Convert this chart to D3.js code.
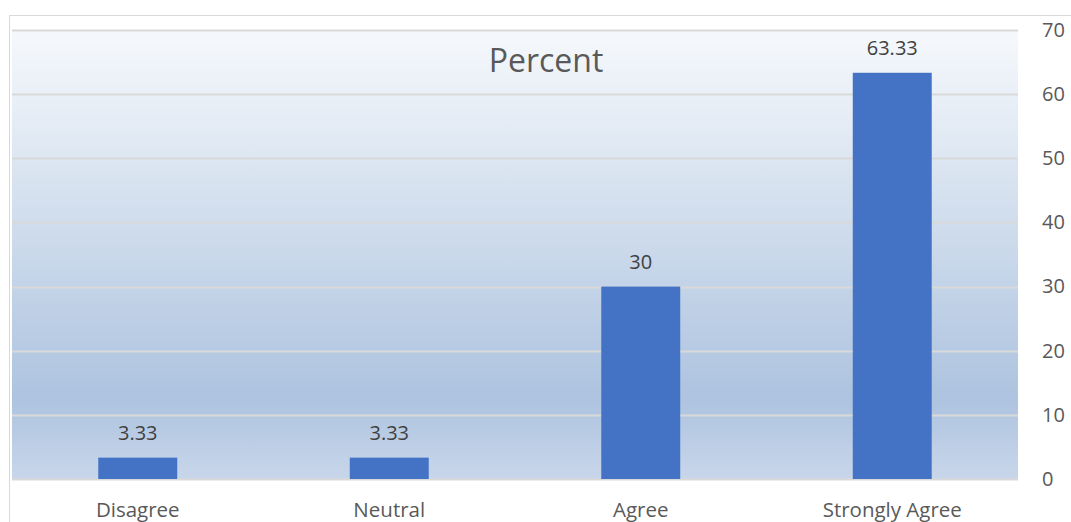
<!DOCTYPE html>
<html><head><meta charset="utf-8">
<script src="https://cdn.jsdelivr.net/npm/d3@7"></script>
<style>body{margin:0;background:#fff;} svg{display:block;font-family:"Open Sans","Noto Sans",sans-serif;}</style>
</head><body>
<svg id="c" width="1071" height="522"></svg>
<script>
const categories = ["Disagree","Neutral","Agree","Strongly Agree"];
const values = [3.33, 3.33, 30, 63.33];
const valueLabels = ["3.33","3.33","30","63.33"];
const yTicks = [0,10,20,30,40,50,60,70];
const title = "Percent";

const svg = d3.select("#c");
const L = 12, R = 1018, T = 30, B = 479;
const x = d3.scaleBand().domain(categories).range([L, R]).paddingInner(0.686).paddingOuter(0.343);
const y = d3.scaleLinear().domain([0,70]).range([B, T]);

const defs = svg.append("defs");
const g = defs.append("linearGradient").attr("id","bg").attr("x1",0).attr("y1",0).attr("x2",0).attr("y2",1);
g.append("stop").attr("offset","0%").attr("stop-color","#f6f9fc");
g.append("stop").attr("offset","82%").attr("stop-color","#adc3df");
g.append("stop").attr("offset","100%").attr("stop-color","#c8d6ea");

svg.append("line").attr("x1",9.5).attr("x2",1071).attr("y1",15.5).attr("y2",15.5).attr("stroke","#d9d9d9");
svg.append("line").attr("x1",9.5).attr("x2",9.5).attr("y1",15.5).attr("y2",522).attr("stroke","#d9d9d9");

svg.append("rect").attr("x",L).attr("y",T).attr("width",R-L).attr("height",B-T).attr("fill","url(#bg)");

svg.append("g").selectAll("line").data(yTicks).join("line")
  .attr("x1",L).attr("x2",R).attr("y1",d=>Math.round(y(d))+0.5).attr("y2",d=>Math.round(y(d))+0.5)
  .attr("stroke","#d9d9d9").attr("stroke-width",2);

const yAxis = d3.axisRight(y).tickValues(yTicks).tickSize(0).tickPadding(0);
const ya = svg.append("g").attr("transform",`translate(${1042},0)`).call(yAxis);
ya.select(".domain").remove();
ya.selectAll("text").attr("font-size",20).attr("fill","#595959").attr("font-family","Open Sans, Noto Sans, sans-serif").attr("dy","0.32em");

svg.append("g").selectAll("rect").data(values).join("rect")
  .attr("x",(d,i)=>x(categories[i])).attr("width",x.bandwidth())
  .attr("y",d=>y(d)).attr("height",d=>y(0)-y(d)).attr("fill","#4472c4");

svg.append("g").selectAll("text").data(values).join("text")
  .attr("x",(d,i)=>x(categories[i])+x.bandwidth()/2).attr("y",d=>y(d)-18)
  .attr("text-anchor","middle").attr("font-size",20).attr("fill","#404040")
  .text((d,i)=>valueLabels[i]);

const xAxis = d3.axisBottom(x).tickSize(0).tickPadding(0);
const xa = svg.append("g").attr("transform",`translate(0,${502})`).call(xAxis);
xa.select(".domain").remove();
xa.selectAll("text").attr("font-size",20.5).attr("fill","#595959").attr("font-family","Open Sans, Noto Sans, sans-serif");

svg.append("text").attr("x",546).attr("y",72).attr("text-anchor","middle")
  .attr("font-size",32).attr("fill","#595959").text(title);
</script>
</body></html>
